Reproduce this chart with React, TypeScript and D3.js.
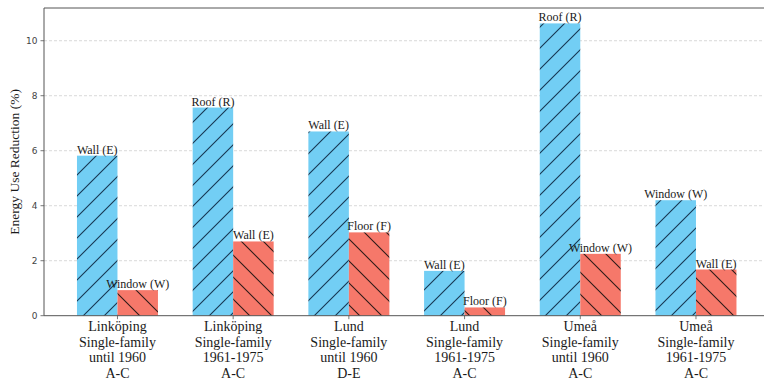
import React from "react";
import * as d3 from "d3";

// Building groups (multi-line tick labels)
const groupLines: string[][] = [
  ["Linköping", "Single-family", "until 1960", "A-C"],
  ["Linköping", "Single-family", "1961-1975", "A-C"],
  ["Lund", "Single-family", "until 1960", "D-E"],
  ["Lund", "Single-family", "1961-1975", "A-C"],
  ["Umeå", "Single-family", "until 1960", "A-C"],
  ["Umeå", "Single-family", "1961-1975", "A-C"],
];

// Best measure per group
const firstValues = [5.82, 7.57, 6.7, 1.63, 10.63, 4.2];
const firstLabels = ["Wall (E)", "Roof (R)", "Wall (E)", "Wall (E)", "Roof (R)", "Window (W)"];

// Second-best measure per group
const secondValues = [0.93, 2.7, 3.03, 0.3, 2.25, 1.68];
const secondLabels = ["Window (W)", "Wall (E)", "Floor (F)", "Floor (F)", "Window (W)", "Wall (E)"];

const yTicks = [0, 2, 4, 6, 8, 10];

const W = 764;
const H = 381;
const left = 44;
const top = 8;
const bottom = 315.7;
const barW = 0.35;

const serif = "'Times New Roman', Tinos, 'Liberation Serif', 'DejaVu Serif', serif";
const sans = "'DejaVu Sans', sans-serif";

export default function App() {
  const x = d3.scaleLinear().domain([-0.635, 5.635]).range([left, left + 6.27 * 115.7]);
  const y = d3.scaleLinear().domain([0, 11.19]).range([bottom, top]);
  const right = x(5.635);

  const blue = "#72CEF4";
  const red = "#F6786A";

  return (
    <svg
      width={W}
      height={H}
      style={{ position: "absolute", left: 0, top: 0, background: "#fff" }}
    >
      <defs>
        <pattern id="hatchFwd" patternUnits="userSpaceOnUse" width={21} height={21}>
          <rect width={21} height={21} fill={blue} />
          <path d="M0,21 L21,0 M-5,5 L5,-5 M16,26 L26,16" stroke="#163752" strokeWidth={1.1} />
        </pattern>
        <pattern id="hatchBack" patternUnits="userSpaceOnUse" width={22} height={22}>
          <rect width={22} height={22} fill={red} />
          <path d="M0,0 L22,22 M-5,17 L5,27 M17,-5 L27,5" stroke="#2e1a18" strokeWidth={1.1} />
        </pattern>
      </defs>

      {/* grid */}
      {yTicks.filter((t) => t > 0).map((t) => (
        <line
          key={`g${t}`}
          x1={left}
          x2={right}
          y1={y(t)}
          y2={y(t)}
          stroke="#cfcfcf"
          strokeWidth={0.8}
          strokeDasharray="3,2"
        />
      ))}

      {/* bars */}
      {firstValues.map((v, i) => (
        <rect
          key={`a${i}`}
          x={x(i - barW)}
          y={y(v)}
          width={x(i) - x(i - barW)}
          height={y(0) - y(v)}
          fill="url(#hatchFwd)"
        />
      ))}
      {secondValues.map((v, i) => (
        <rect
          key={`b${i}`}
          x={x(i)}
          y={y(v)}
          width={x(i + barW) - x(i)}
          height={y(0) - y(v)}
          fill="url(#hatchBack)"
        />
      ))}

      {/* bar labels */}
      {firstValues.map((v, i) => (
        <text
          key={`la${i}`}
          x={x(i - barW / 2)}
          y={y(v) - 2}
          textAnchor="middle"
          style={{ fontFamily: serif, fontSize: 12 }}
          fill="#1a1a1a"
        >
          {firstLabels[i]}
        </text>
      ))}
      {secondValues.map((v, i) => (
        <text
          key={`lb${i}`}
          x={x(i + barW / 2)}
          y={y(v) - 2}
          textAnchor="middle"
          style={{ fontFamily: serif, fontSize: 12 }}
          fill="#1a1a1a"
        >
          {secondLabels[i]}
        </text>
      ))}

      {/* frame */}
      <line x1={left} x2={right} y1={top} y2={top} stroke="#555" strokeWidth={1} />
      <line x1={left} x2={left} y1={top} y2={bottom} stroke="#555" strokeWidth={1} />
      <line x1={left} x2={right} y1={bottom} y2={bottom} stroke="#555" strokeWidth={1} />

      {/* y ticks */}
      {yTicks.map((t) => (
        <g key={`t${t}`}>
          <line x1={left - 3.5} x2={left} y1={y(t)} y2={y(t)} stroke="#555" strokeWidth={0.8} />
          <text
            x={left - 6.5}
            y={y(t) + 3.2}
            textAnchor="end"
            style={{ fontFamily: sans, fontSize: 9 }}
            fill="#444"
          >
            {t}
          </text>
        </g>
      ))}

      {/* x ticks */}
      {groupLines.map((lines, i) => (
        <g key={`x${i}`}>
          <line x1={x(i)} x2={x(i)} y1={bottom} y2={bottom + 3.5} stroke="#555" strokeWidth={0.8} />
          <text textAnchor="middle" style={{ fontFamily: serif, fontSize: 14 }} fill="#1a1a1a">
            {lines.map((ln, k) => (
              <tspan key={k} x={x(i)} y={331 + k * 15.7}>
                {ln}
              </tspan>
            ))}
          </text>
        </g>
      ))}

      {/* y axis title */}
      <text
        transform={`translate(18.5,${(top + bottom) / 2}) rotate(-90)`}
        textAnchor="middle"
        style={{ fontFamily: serif, fontSize: 13.5 }}
        fill="#1a1a1a"
      >
        Energy Use Reduction (%)
      </text>
    </svg>
  );
}
